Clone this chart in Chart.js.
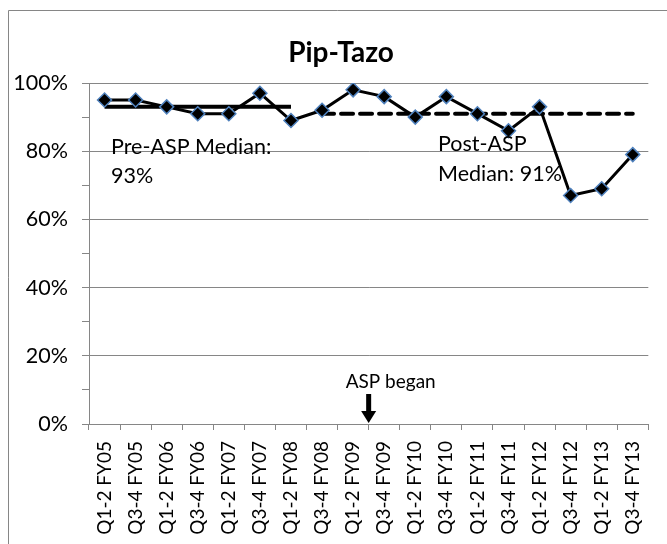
<!DOCTYPE html>
<html>
<head>
<meta charset="utf-8">
<script src="https://cdn.jsdelivr.net/npm/chart.js@4/dist/chart.umd.min.js"></script>
<style>
  html, body { margin: 0; padding: 0; background: #fff; }
  #wrap { width: 667px; height: 544px; position: relative; }
</style>
</head>
<body>
<div id="wrap"><canvas id="myChart" width="667" height="544"></canvas></div>
<script>
// Dữ liệu biểu đồ
const periods = [
  'Q1-2 FY05', 'Q3-4 FY05', 'Q1-2 FY06', 'Q3-4 FY06', 'Q1-2 FY07', 'Q3-4 FY07',
  'Q1-2 FY08', 'Q3-4 FY08', 'Q1-2 FY09', 'Q3-4 FY09', 'Q1-2 FY10', 'Q3-4 FY10',
  'Q1-2 FY11', 'Q3-4 FY11', 'Q1-2 FY12', 'Q3-4 FY12', 'Q1-2 FY13', 'Q3-4 FY13'
];
const pipTazo = [0.95, 0.95, 0.93, 0.91, 0.91, 0.97, 0.89, 0.92, 0.98, 0.96, 0.90, 0.96, 0.91, 0.86, 0.93, 0.67, 0.69, 0.79];
const preMedian = [0.93, 0.93, 0.93, 0.93, 0.93, 0.93, 0.93, null, null, null, null, null, null, null, null, null, null, null];
const postMedian = [null, null, null, null, null, null, null, 0.91, 0.91, 0.91, 0.91, 0.91, 0.91, 0.91, 0.91, 0.91, 0.91, 0.91];
const aspStartIndex = 8.5; // giữa Q1-2 FY09 và Q3-4 FY09

const FONT = 'Lato, "Open Sans", sans-serif';
const GRID = '#868686';

// Vẽ khung, tiêu đề và chú thích
const annotations = {
  id: 'annotations',
  beforeDraw(chart) {
    const ctx = chart.ctx;
    ctx.save();
    ctx.fillStyle = '#fff';
    ctx.fillRect(0, 0, chart.width, chart.height);
    ctx.strokeStyle = GRID;
    ctx.lineWidth = 1;
    ctx.beginPath();
    ctx.moveTo(8.5, chart.height);
    ctx.lineTo(8.5, 10.5);
    ctx.lineTo(chart.width, 10.5);
    ctx.stroke();
    ctx.restore();
  },
  afterDraw(chart) {
    const ctx = chart.ctx;
    const x = chart.scales.x;
    const y = chart.scales.y;
    ctx.save();
    ctx.fillStyle = '#000';

    // Tiêu đề
    ctx.font = 'bold 28px ' + FONT;
    ctx.textAlign = 'center';
    ctx.textBaseline = 'alphabetic';
    ctx.fillText('Pip-Tazo', 341, 62);

    // Nhãn trung vị
    ctx.font = '21.5px ' + FONT;
    ctx.textAlign = 'left';
    ctx.fillText('Pre-ASP Median:', 111, 154);
    ctx.fillText('93%', 111, 182.5);
    ctx.fillText('Post-ASP', 438, 151);
    ctx.fillText('Median: 91%', 438, 180.5);

    // Mũi tên "ASP began"
    const ax = x.getPixelForValue(aspStartIndex);
    const base = y.getPixelForValue(0);
    ctx.font = '19px ' + FONT;
    ctx.fillText('ASP began', ax - 23, 388);
    ctx.beginPath();
    ctx.fillRect(ax - 2.5, base - 30, 5, 18);
    ctx.moveTo(ax - 7.5, base - 13);
    ctx.lineTo(ax + 7.5, base - 13);
    ctx.lineTo(ax, base - 1);
    ctx.closePath();
    ctx.fill();
    ctx.restore();
  }
};

const ctx = document.getElementById('myChart').getContext('2d');
const chart = new Chart(ctx, {
  type: 'line',
  data: {
    labels: periods,
    datasets: [
      {
        label: 'Pip-Tazo',
        data: pipTazo,
        borderColor: '#000',
        borderWidth: 3,
        pointStyle: 'rectRot',
        pointRadius: 7,
        pointBackgroundColor: '#000',
        pointBorderColor: '#4F81BD',
        pointBorderWidth: 1.5,
        tension: 0
      },
      {
        label: 'Pre-ASP Median',
        data: preMedian,
        borderColor: '#000',
        borderWidth: 4,
        pointRadius: 0,
        spanGaps: false
      },
      {
        label: 'Post-ASP Median',
        data: postMedian,
        borderColor: '#000',
        borderWidth: 4,
        borderDash: [12, 7],
        borderCapStyle: 'round',
        pointRadius: 0,
        spanGaps: false
      }
    ]
  },
  options: {
    responsive: false,
    animation: false,
    events: [],
    layout: { padding: { left: 0, right: 15, top: 83, bottom: 0 } },
    plugins: {
      legend: { display: false },
      title: { display: false },
      tooltip: { enabled: false }
    },
    scales: {
      x: {
        offset: true,
        grid: {
          offset: true,
          drawOnChartArea: false,
          drawTicks: true,
          tickLength: 6,
          color: GRID
        },
        border: { color: GRID, width: 1 },
        ticks: {
          minRotation: 90,
          maxRotation: 90,
          autoSkip: false,
          padding: 11,
          color: '#000',
          font: { family: FONT, size: 19 }
        },
        afterFit: scale => { scale.height = 120; }
      },
      y: {
        min: 0,
        max: 1,
        grid: {
          color: c => (Math.round(c.tick.value * 10) % 2 === 0 ? GRID : 'rgba(0,0,0,0)'),
          tickColor: GRID,
          tickLength: 7,
          lineWidth: 1
        },
        border: { color: GRID, width: 1 },
        ticks: {
          stepSize: 0.1,
          padding: 14,
          color: '#000',
          font: { family: FONT, size: 21.5 },
          callback: function(value) {
            const v = Math.round(value * 10);
            if (v % 2 === 0) {
              return (v * 10) + '%';
            }
            return '';
          }
        },
        afterFit: scale => { scale.width = 89; }
      }
    }
  },
  plugins: [annotations]
});
</script>
</body>
</html>
